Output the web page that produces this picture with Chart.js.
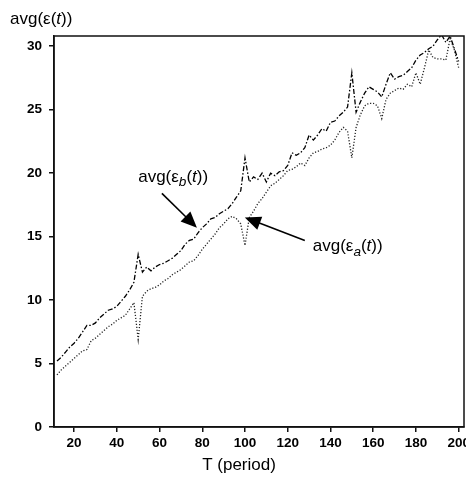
<!DOCTYPE html>
<html>
<head>
<meta charset="utf-8">
<script src="https://cdn.jsdelivr.net/npm/chart.js@4.4.1/dist/chart.umd.min.js"></script>
<style>
html, body { margin: 0; padding: 0; background: #fff; }
#wrap { width: 466px; height: 477px; }
</style>
</head>
<body>
<div id="wrap"><canvas id="c" width="466" height="477"></canvas></div>
<script>
// T (period)
const periods = [
  12, 14, 16, 18, 20, 22, 24, 26, 28, 30,
  32, 34, 36, 38, 40, 42, 44, 46, 48, 50,
  52, 54, 56, 58, 60, 62, 64, 66, 68, 70,
  72, 74, 76, 78, 80, 82, 84, 86, 88, 90,
  92, 94, 96, 98, 100, 102, 104, 106, 108, 110,
  112, 114, 116, 118, 120, 122, 124, 126, 128, 130,
  132, 134, 136, 138, 140, 142, 144, 146, 148, 150,
  152, 154, 156, 158, 160, 162, 164, 166, 168, 170,
  172, 174, 176, 178, 180, 182, 184, 186, 188, 190,
  192, 194, 196, 198, 200
];

// avg(eps_b(t)) - dash-dot, upper
const epsB = [
  5.2, 5.5, 5.9, 6.3, 6.6, 7.0, 7.5, 8.0, 8.0, 8.2,
  8.6, 8.9, 9.2, 9.3, 9.5, 9.9, 10.3, 10.8, 11.4, 13.6,
  12.2, 12.6, 12.3, 12.6, 12.8, 12.9, 13.1, 13.3, 13.6, 13.9,
  14.4, 14.7, 14.8, 15.3, 15.7, 16.0, 16.4, 16.5, 16.8, 17.0,
  17.2, 17.6, 18.1, 18.6, 21.2, 19.3, 19.7, 19.5, 20.0, 19.3,
  20.0, 19.8, 20.1, 20.2, 20.6, 21.6, 21.4, 21.6, 22.0, 23.0,
  22.6, 23.0, 23.5, 23.3, 24.0, 24.1, 24.5, 24.8, 25.2, 27.9,
  24.8, 25.6, 26.3, 26.8, 26.6, 26.4, 26.0, 27.0, 27.9, 27.4,
  27.6, 27.7, 28.0, 28.3, 28.9, 29.3, 29.5, 29.8, 30.0, 30.5,
  30.9, 30.3, 30.8, 29.8, 28.8
];

// avg(eps_a(t)) - dotted, lower
const epsA = [
  4.1, 4.5, 4.8, 5.1, 5.4, 5.7, 6.0, 6.1, 6.8, 7.0,
  7.3, 7.6, 7.9, 8.1, 8.4, 8.6, 8.8, 9.3, 9.8, 6.9,
  10.3, 10.7, 10.9, 11.0, 11.2, 11.5, 11.7, 12.0, 12.2, 12.4,
  12.7, 13.0, 13.1, 13.5, 14.0, 14.4, 14.8, 15.2, 15.7, 16.0,
  16.4, 16.6, 16.4, 16.0, 14.3, 16.5, 17.0, 17.6, 18.0, 18.5,
  19.0, 19.2, 19.5, 19.8, 20.2, 20.3, 20.5, 20.8, 20.6, 21.2,
  21.6, 21.7, 21.9, 22.0, 22.2, 22.6, 23.2, 23.6, 23.3, 21.2,
  23.6, 24.6, 25.3, 25.5, 25.5, 25.3, 24.3, 25.8, 26.3, 26.5,
  26.7, 26.6, 27.0, 26.8, 27.9, 27.0, 28.3, 29.7, 29.1, 29.0,
  29.0, 28.9, 30.6, 29.7, 28.3
];

const xTicks = [20, 40, 60, 80, 100, 120, 140, 160, 180, 200];
const yTicks = [0, 5, 10, 15, 20, 25, 30];

// labels with arrows, in data units
const notes = [
  { sub: 'b', text: [50, 19.7], from: [61.1, 18.4], to: [77.5, 15.7] },
  { sub: 'a', text: [131.7, 14.2], from: [128, 14.7], to: [99.9, 16.5] }
];

const FONT = '"Liberation Sans", Arial, sans-serif';

function richText(ctx, x, y, size, sub) {
  // avg(eps_sub(t))
  const parts = [
    { t: 'avg(\u03b5' },
    { t: sub, italic: true, small: true },
    { t: '(' },
    { t: 't', italic: true },
    { t: '))' }
  ];
  ctx.textBaseline = 'middle';
  ctx.textAlign = 'left';
  ctx.fillStyle = '#000';
  let cx = x;
  for (const p of parts) {
    const fs = p.small ? size * 0.8 : size;
    ctx.font = (p.italic ? 'italic ' : '') + fs + 'px ' + FONT;
    ctx.fillText(p.t, cx, p.small ? y + size * 0.3 : y);
    cx += ctx.measureText(p.t).width;
  }
}

function arrow(ctx, x1, y1, x2, y2) {
  const a = Math.atan2(y2 - y1, x2 - x1);
  const len = 16, half = 7;
  ctx.strokeStyle = '#000';
  ctx.lineWidth = 1.6;
  ctx.beginPath();
  ctx.moveTo(x1, y1);
  ctx.lineTo(x2 - Math.cos(a) * len * 0.8, y2 - Math.sin(a) * len * 0.8);
  ctx.stroke();
  ctx.fillStyle = '#000';
  ctx.beginPath();
  ctx.moveTo(x2, y2);
  ctx.lineTo(x2 - Math.cos(a) * len - Math.sin(a) * half, y2 - Math.sin(a) * len + Math.cos(a) * half);
  ctx.lineTo(x2 - Math.cos(a) * len + Math.sin(a) * half, y2 - Math.sin(a) * len - Math.cos(a) * half);
  ctx.closePath();
  ctx.fill();
}

const decor = {
  id: 'decor',
  afterDraw(chart) {
    const ctx = chart.ctx;
    const a = chart.chartArea;
    const xs = chart.scales.x, ys = chart.scales.y;
    ctx.save();
    // frame
    ctx.strokeStyle = '#111';
    ctx.lineWidth = 1.5;
    ctx.strokeRect(a.left, a.top, a.right - a.left, a.bottom - a.top);

    // y axis title
    ctx.textBaseline = 'middle';
    ctx.textAlign = 'left';
    ctx.fillStyle = '#000';
    const yt = [{ t: 'avg(\u03b5(' }, { t: 't', italic: true }, { t: '))' }];
    let cx = 10;
    for (const p of yt) {
      ctx.font = (p.italic ? 'italic ' : '') + '17px ' + FONT;
      ctx.fillText(p.t, cx, 19);
      cx += ctx.measureText(p.t).width;
    }

    // x axis title
    ctx.font = '17px ' + FONT;
    ctx.textAlign = 'center';
    ctx.fillText('T (period)', 239, 465);

    // annotations
    for (const n of notes) {
      richText(ctx, xs.getPixelForValue(n.text[0]), ys.getPixelForValue(n.text[1]), 17, n.sub);
      arrow(ctx,
        xs.getPixelForValue(n.from[0]), ys.getPixelForValue(n.from[1]),
        xs.getPixelForValue(n.to[0]), ys.getPixelForValue(n.to[1]));
    }
    ctx.restore();
  }
};

new Chart(document.getElementById('c'), {
  type: 'line',
  data: {
    datasets: [
      {
        label: 'avg(eps_b(t))',
        data: periods.map((t, i) => ({ x: t, y: epsB[i] })),
        borderColor: '#000',
        borderWidth: 1.3,
        borderDash: [5, 2, 1.5, 2],
        pointRadius: 0,
        tension: 0
      },
      {
        label: 'avg(eps_a(t))',
        data: periods.map((t, i) => ({ x: t, y: epsA[i] })),
        borderColor: '#222',
        borderWidth: 1.3,
        borderDash: [1.2, 1.8],
        pointRadius: 0,
        tension: 0
      }
    ]
  },
  options: {
    responsive: false,
    animation: false,
    layout: { padding: { top: 36, right: 2, left: 0, bottom: 0 } },
    plugins: { legend: { display: false }, tooltip: { enabled: false } },
    scales: {
      x: {
        type: 'linear',
        min: 10.6,
        max: 202.5,
        afterBuildTicks: s => { s.ticks = xTicks.map(v => ({ value: v })); },
        afterFit: s => { s.height = 50; s.paddingLeft = 0; s.paddingRight = 0; },
        grid: { display: true, drawOnChartArea: false, drawTicks: true, tickLength: 5, color: '#111', lineWidth: 1.5 },
        border: { display: true, color: '#111', width: 1.5 },
        ticks: { color: '#000', padding: 3, maxRotation: 0, autoSkip: false, font: { family: FONT, size: 13.5, weight: 'bold' } }
      },
      y: {
        min: 0,
        max: 30.8,
        afterBuildTicks: s => { s.ticks = yTicks.map(v => ({ value: v })); },
        afterFit: s => { s.width = 54; s.paddingTop = 0; s.paddingBottom = 0; },
        grid: { display: true, drawOnChartArea: false, drawTicks: true, tickLength: 5, color: '#111', lineWidth: 1.5 },
        border: { display: true, color: '#111', width: 1.5 },
        ticks: { color: '#000', padding: 7, font: { family: FONT, size: 13.5, weight: 'bold' } }
      }
    }
  },
  plugins: [decor]
});
</script>
</body>
</html>
